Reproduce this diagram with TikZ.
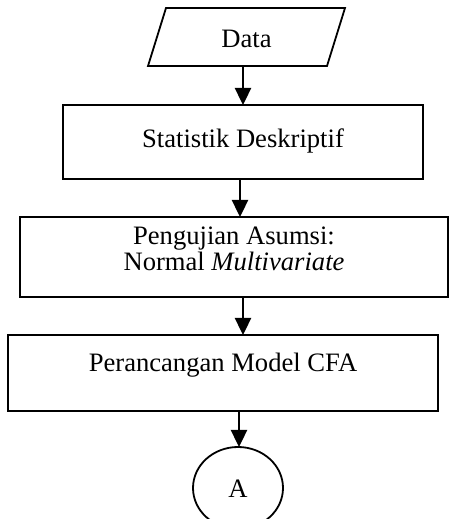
\documentclass[tikz,border=0pt]{standalone}
\usepackage{fontspec}
\setmainfont{Liberation Serif}
\usetikzlibrary{arrows.meta,shapes.geometric}

\begin{document}
\begin{tikzpicture}[
  x=1pt, y=1pt,
  every node/.style={font=\fontsize{13.3}{13}\selectfont},
  boxshape/.style={draw, line width=1pt, rectangle, inner sep=0pt, outer sep=0pt},
  iobase/.style={rectangle, minimum width=89.5pt, minimum height=29pt,
    inner sep=0pt, outer sep=0pt},
  ioline/.style={line width=0.9pt, line join=miter},
  connector/.style={draw, ellipse, line width=0.9pt, minimum width=45pt,
    minimum height=41pt, inner sep=0pt, outer sep=0pt},
  flow/.style={line width=1.2pt, -{Triangle[width=8pt,length=8.5pt]}},
  label/.style={anchor=base, inner sep=0pt}
]
\useasboundingbox (0,0) rectangle (226.5,259.5);

% shapes of the flowchart
\node[iobase] (data) at (123.25,241) {};
\draw[ioline] ([xshift=4.5pt]data.north west) -- ([xshift=4.5pt]data.north east)
  -- ([xshift=-4.5pt]data.south east) -- ([xshift=-4.5pt]data.south west) -- cycle;
\node[boxshape, minimum width=180pt, minimum height=37pt] (stat) at (121.5,188.5) {};
\node[boxshape, minimum width=214pt, minimum height=40pt] (asumsi) at (117,131) {};
\node[boxshape, minimum width=215pt, minimum height=38pt] (cfa) at (111.5,73) {};
\node[connector] (A) at (119,15.5) {};

% texts
\node[label] at (data.center |- 0,235.5) {Data};
\node[label] at (stat.center |- 0,185.5) {Statistik Deskriptif};
\node[label] at (asumsi.center |- 0,137) {Pengujian Asumsi:};
\node[label] at (asumsi.center |- 0,124) {Normal \textit{Multivariate}};
\node[label] at (cfa.center |- 0,73.6) {Perancangan Model CFA};
\node[label] at (A.center |- 0,10.5) {A};

% connectors
\draw[flow] (data.south -| 121.5,0) -- (stat.north -| 121.5,0);
\draw[flow] (stat.south -| 120,0) -- (asumsi.north -| 120,0);
\draw[flow] (asumsi.south -| 121.5,0) -- (cfa.north -| 121.5,0);
\draw[flow] (cfa.south -| 119.5,0) -- (A.north -| 119.5,0);
\end{tikzpicture}
\end{document}
